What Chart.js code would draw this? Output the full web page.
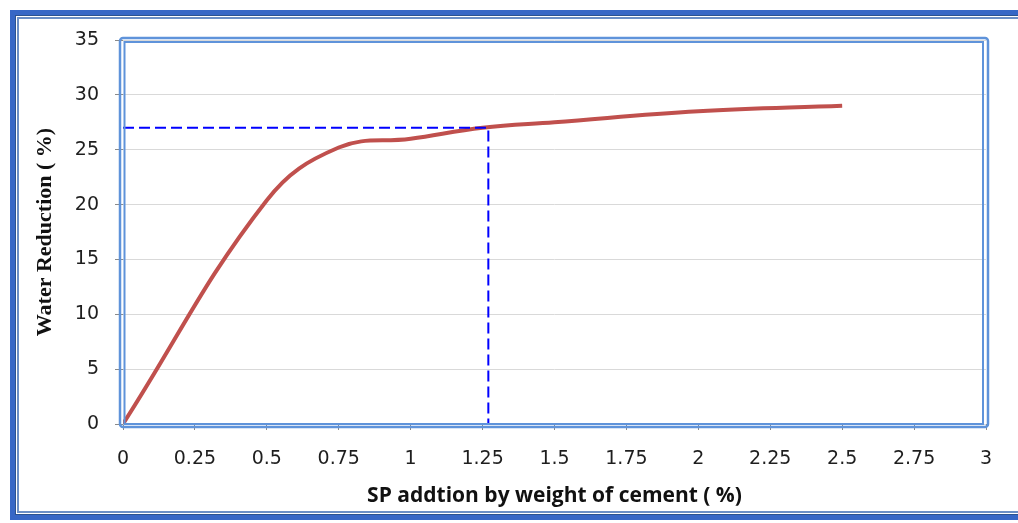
<!DOCTYPE html>
<html>
<head>
<meta charset="utf-8">
<script src="https://cdn.jsdelivr.net/npm/chart.js@4.4.0/dist/chart.umd.min.js"></script>
<style>
  html, body { margin: 0; padding: 0; background: #fff; overflow: hidden; }
  #wrap { position: relative; width: 1018px; height: 523px; }
  .frame {
    position: absolute; left: 10px; top: 10px; width: 1040px; height: 510px;
    box-sizing: border-box; border: 5px solid #3767c6;
    box-shadow: inset 0 0 0 1px #2c528f;
  }
  .frame::after {
    content: ''; position: absolute; left: 2px; top: 2px; right: 2px; bottom: 2px;
    border: 2px solid #6b8fc6;
  }
  canvas { position: absolute; left: 0; top: 0; }
</style>
</head>
<body>
<div id="wrap">
  <div class="frame"></div>
  <canvas id="chart" width="1018" height="523"></canvas>
</div>
<script>
// SP dosage (% by weight of cement) vs water reduction (%)
const spDosage = [0, 0.5, 0.75, 1, 1.25, 1.5, 2, 2.5];
const waterReduction = [0, 20.4, 25.2, 26, 27, 27.5, 28.5, 29];

// optimum dosage marker (dashed guide lines)
const guideX = [0, 1.27, 1.27];
const guideY = [27, 27, 0];

const xTickLabels = ['0', '0.25', '0.5', '0.75', '1', '1.25', '1.5', '1.75', '2', '2.25', '2.5', '2.75', '3'];
const yTickLabels = ['0', '5', '10', '15', '20', '25', '30', '35'];

const toPoints = (xs, ys) => xs.map((x, i) => ({ x: x, y: ys[i] }));

// double blue border around the plot area
const plotFrame = {
  id: 'plotFrame',
  afterDraw(chart) {
    const { ctx, chartArea: a } = chart;
    ctx.save();
    ctx.strokeStyle = '#5f93da';
    ctx.lineWidth = 2.5;
    ctx.beginPath();
    ctx.roundRect(a.left - 3, a.top - 2, a.right - a.left + 5, a.bottom - a.top + 5, 3);
    ctx.stroke();
    ctx.lineWidth = 2;
    ctx.strokeRect(a.left + 1.5, a.top + 2, a.right - a.left - 4.5, a.bottom - a.top - 2);
    ctx.restore();
  }
};

const tickFont = { family: '"DejaVu Sans", Verdana, sans-serif', size: 19 };

new Chart(document.getElementById('chart'), {
  type: 'scatter',
  data: {
    datasets: [{
      data: toPoints(spDosage, waterReduction),
      showLine: true,
      borderColor: '#c0504d',
      borderWidth: 4,
      pointRadius: 0,
      tension: 0.4,
      order: 1
    }, {
      data: toPoints(guideX, guideY),
      showLine: true,
      borderColor: '#0000ff',
      borderWidth: 2,
      borderDash: [11, 5],
      pointRadius: 0,
      tension: 0,
      order: 0
    }]
  },
  options: {
    responsive: false,
    animation: false,
    layout: { padding: { left: 0, top: 40, right: 32, bottom: 0 } },
    plugins: { legend: { display: false }, tooltip: { enabled: false } },
    scales: {
      x: {
        type: 'linear',
        min: 0, max: 3,
        afterFit: (s) => { s.height = 99; },
        afterBuildTicks: (s) => { s.ticks = xTickLabels.map((t, i) => ({ value: i * 0.25 })); },
        grid: { drawOnChartArea: false, tickLength: 6, tickColor: '#8a8a8a' },
        border: { display: false },
        ticks: {
          color: '#1e1e1e', font: tickFont, padding: 18, maxRotation: 0, autoSkip: false,
          callback: (v, i) => xTickLabels[i]
        },
        title: {
          display: true,
          text: 'SP addtion by weight of cement ( %)',
          color: '#111',
          font: { family: '"Open Sans", Calibri, sans-serif', size: 21, weight: 'bold' },
          padding: { top: 0, bottom: 14 }
        }
      },
      y: {
        min: 0, max: 35,
        afterFit: (s) => { s.width = 123; },
        afterBuildTicks: (s) => { s.ticks = yTickLabels.map((t, i) => ({ value: i * 5 })); },
        grid: { color: '#d9d9d9', lineWidth: 1, tickLength: 8, tickColor: '#8a8a8a' },
        border: { display: false },
        ticks: {
          color: '#1e1e1e', font: tickFont, padding: 16,
          callback: (v, i) => yTickLabels[i]
        },
        title: {
          display: true,
          text: 'Water Reduction ( %)',
          color: '#111',
          font: { family: '"Liberation Serif", "Times New Roman", serif', size: 22, weight: 'bold' },
          padding: { top: 32, bottom: 0 }
        }
      }
    }
  },
  plugins: [plotFrame]
});
</script>
</body>
</html>
